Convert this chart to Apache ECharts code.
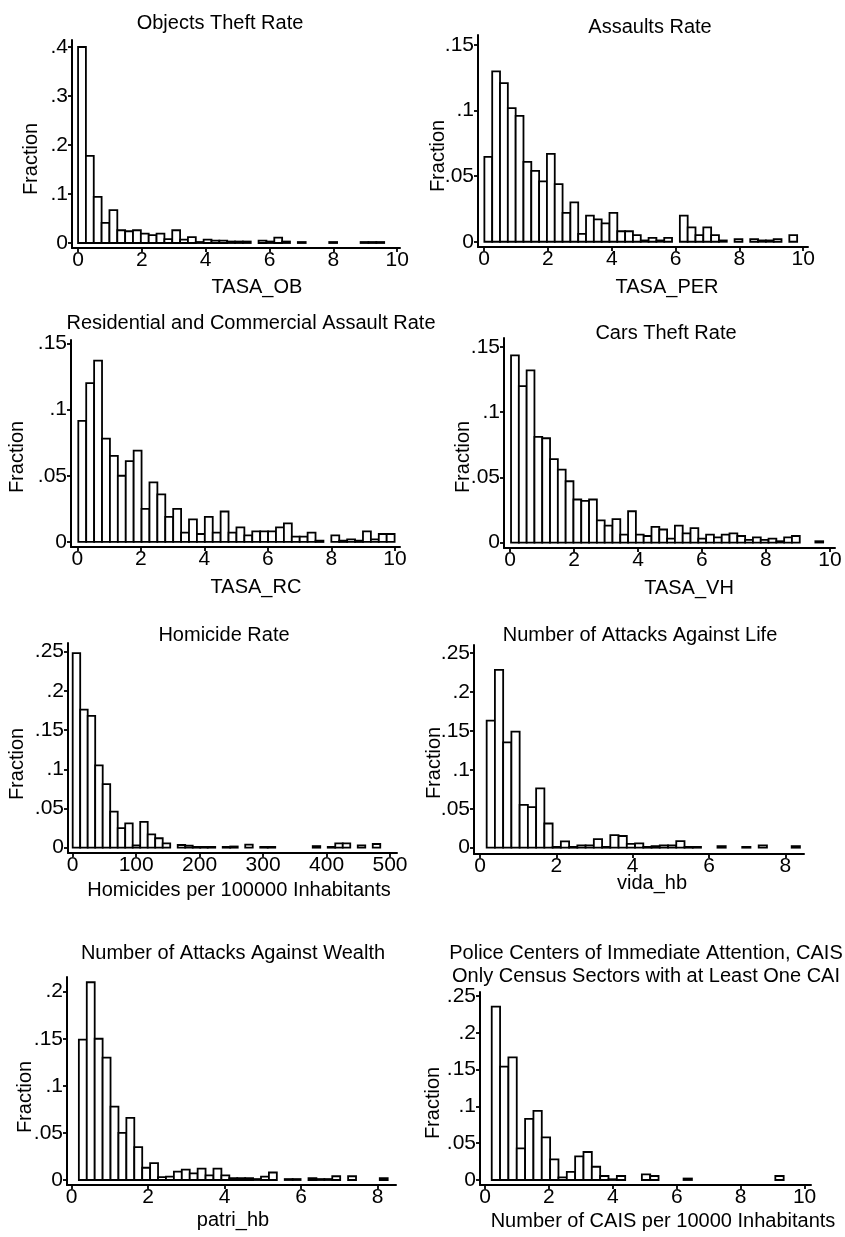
<!DOCTYPE html>
<html>
<head>
<meta charset="utf-8">
<title>Crime rate histograms</title>
<script src="https://cdn.jsdelivr.net/npm/echarts@6.0.0/dist/echarts.min.js"></script>
<style>
html, body { margin: 0; padding: 0; background: #fff; }
#chart { width: 845px; height: 1237px; }
</style>
</head>
<body>
<div id="chart"></div>
<script>
// bin heights (fraction), left to right
var objHeights = [0.400, 0.178, 0.094, 0.041, 0.067, 0.026, 0.024, 0.026, 0.019, 0.016, 0.019, 0.008, 0.026, 0.007, 0.012, 0.002, 0.007, 0.005, 0.005, 0.003, 0.003, 0.003, 0, 0.005, 0.003, 0.011, 0.003, 0, 0.002, 0, 0, 0, 0.002, 0, 0, 0, 0.002, 0.002, 0.002];
var perHeights = [0.0648, 0.130, 0.121, 0.102, 0.096, 0.061, 0.054, 0.046, 0.067, 0.044, 0.022, 0.030, 0.006, 0.020, 0.017, 0.014, 0.022, 0.008, 0.008, 0.005, 0.001, 0.003, 0.001, 0.003, 0, 0.020, 0.011, 0.005, 0.011, 0.005, 0.001, 0, 0.002, 0, 0.002, 0.001, 0.001, 0.002, 0, 0.005];
var rcHeights = [0.0915, 0.120, 0.137, 0.078, 0.065, 0.050, 0.061, 0.069, 0.025, 0.045, 0.036, 0.019, 0.025, 0.007, 0.017, 0.006, 0.019, 0.007, 0.023, 0.007, 0.011, 0.005, 0.008, 0.008, 0.008, 0.011, 0.014, 0.004, 0.004, 0.007, 0.001, 0, 0.005, 0.001, 0.002, 0.001, 0.008, 0.002, 0.006, 0.006];
var vhHeights = [0.1436, 0.120, 0.132, 0.081, 0.080, 0.064, 0.056, 0.047, 0.033, 0.032, 0.033, 0.017, 0.013, 0.018, 0.006, 0.024, 0.006, 0.005, 0.012, 0.010, 0.003, 0.013, 0.007, 0.011, 0.003, 0.006, 0.004, 0.006, 0.007, 0.005, 0.002, 0.004, 0.002, 0.003, 0.001, 0.004, 0.005, 0, 0, 0.001];
var homHeights = [0.248, 0.176, 0.168, 0.105, 0.081, 0.046, 0.025, 0.031, 0.003, 0.033, 0.017, 0.012, 0.0055, 0, 0.0034, 0.0025, 0.001, 0.001, 0.001, 0, 0.001, 0.0015, 0, 0.004, 0, 0.001, 0.001, 0, 0, 0, 0, 0, 0.002, 0, 0.001, 0.0055, 0.0055, 0, 0.003, 0, 0.0047];
var vidaHeights = [0.163, 0.228, 0.135, 0.149, 0.055, 0.052, 0.076, 0.031, 0.001, 0.008, 0.001, 0.003, 0.003, 0.011, 0.001, 0.016, 0.015, 0.005, 0.0055, 0.001, 0.002, 0.003, 0.003, 0.0085, 0.001, 0.001, 0, 0, 0.002, 0, 0, 0.001, 0, 0.003, 0, 0, 0, 0.002];
var patriHeights = [0.149, 0.210, 0.150, 0.130, 0.078, 0.050, 0.066, 0.035, 0.013, 0.018, 0.003, 0.0035, 0.009, 0.011, 0.007, 0.012, 0.005, 0.012, 0.005, 0.002, 0.002, 0.002, 0.001, 0.0035, 0.008, 0, 0.001, 0.001, 0, 0.002, 0.001, 0.001, 0.004, 0, 0.004, 0, 0, 0, 0.002];
var caisHeights = [0.2355, 0.154, 0.1667, 0.043, 0.083, 0.094, 0.058, 0.028, 0.0036, 0.011, 0.032, 0.038, 0.018, 0.0054, 0.001, 0.0054, 0, 0, 0.0077, 0.0054, 0, 0, 0, 0.002, 0, 0, 0, 0, 0, 0, 0, 0, 0, 0, 0.0054];

var allHeights = [objHeights, perHeights, rcHeights, vhHeights, homHeights, vidaHeights, patriHeights, caisHeights];
// left edge of the first bin and bin width, in x units
var binStarts = [0, 0.01, 0.03, 0.03, 0, 0.175, 0.19, 0.21];
var binWidths = [0.246, 0.245, 0.249, 0.244, 11.82, 0.216, 0.207, 0.261];

var panelTitles = [
	['Objects Theft Rate'],
	['Assaults Rate'],
	['Residential and Commercial Assault Rate'],
	['Cars Theft Rate'],
	['Homicide Rate'],
	['Number of Attacks Against Life'],
	['Number of Attacks Against Wealth'],
	['Police Centers of Immediate Attention, CAIS', 'Only Census Sectors with at Least One CAI']
];
var xNames = ['TASA_OB', 'TASA_PER', 'TASA_RC', 'TASA_VH', 'Homicides per 100000 Inhabitants', 'vida_hb', 'patri_hb', 'Number of CAIS per 10000 Inhabitants'];
var xTicks = [
	[0, 2, 4, 6, 8, 10], [0, 2, 4, 6, 8, 10], [0, 2, 4, 6, 8, 10], [0, 2, 4, 6, 8, 10],
	[0, 100, 200, 300, 400, 500], [0, 2, 4, 6, 8], [0, 2, 4, 6, 8], [0, 2, 4, 6, 8, 10]
];
var yTicks = [
	[0, 0.1, 0.2, 0.3, 0.4],
	[0, 0.05, 0.1, 0.15],
	[0, 0.05, 0.1, 0.15],
	[0, 0.05, 0.1, 0.15],
	[0, 0.05, 0.1, 0.15, 0.2, 0.25],
	[0, 0.05, 0.1, 0.15, 0.2, 0.25],
	[0, 0.05, 0.1, 0.15, 0.2],
	[0, 0.05, 0.1, 0.15, 0.2, 0.25]
];

// layout: axis box [left, top, width, height], axis ranges, text anchors
var layout = [
	{box: [72, 40, 328, 208], x: [-0.19, 10.09], y: [-0.0102, 0.4143], title: [220, 23], name: [257, 287], frac: [31, 159]},
	{box: [478, 35, 330, 212], x: [-0.19, 10.15], y: [-0.0040, 0.1577], title: [650, 27], name: [667, 287], frac: [438, 156]},
	{box: [71, 340, 329, 207], x: [-0.2, 10.16], y: [-0.0038, 0.1525], title: [251, 323], name: [256, 587], frac: [17, 457]},
	{box: [504, 338, 331, 210], x: [-0.19, 10.16], y: [-0.0042, 0.1569], title: [666, 333], name: [689, 588], frac: [463, 457]},
	{box: [68, 643, 329, 210], x: [-7.4, 511], y: [-0.0068, 0.261], title: [224, 635], name: [239, 890], frac: [17, 764]},
	{box: [474, 645, 330, 209], x: [-0.157, 8.49], y: [-0.0081, 0.26], title: [640, 635], name: [652, 883], frac: [434, 763]},
	{box: [67, 977, 329, 208], x: [-0.12, 8.48], y: [-0.0053, 0.2156], title: [233, 953], name: [233, 1220], frac: [25, 1097]},
	{box: [480, 992, 331, 193], x: [-0.157, 10.2], y: [-0.0068, 0.2554], title: [646, 953], name: [663, 1221], frac: [433, 1103]}
];

var FONT = '"Liberation Sans", Arial, Helvetica, sans-serif';
var chart = echarts.init(document.getElementById('chart'));

// stata style labels: .05, .1 ...
function fracLabel(v) {
	if (Math.abs(v) < 1e-9) return '0';
	return String(+v.toFixed(3)).replace(/^0\./, '.');
}

function renderBar(params, api) {
	var h = api.value(2);
	if (!(h > 0)) return null;
	var lo = api.coord([api.value(0), 0]);
	var hi = api.coord([api.value(1), h]);
	return {
		type: 'rect',
		shape: {x: lo[0], y: hi[1], width: hi[0] - lo[0], height: lo[1] - hi[1]},
		style: {fill: '#fff', stroke: '#000', lineWidth: 1.8}
	};
}

function textEl(str, pos, rot) {
	return {
		type: 'text',
		x: pos[0], y: pos[1],
		rotation: rot || 0,
		style: {
			text: str, fill: '#000',
			fontSize: 20, fontFamily: FONT,
			align: 'center', verticalAlign: 'middle',
			textAlign: 'center', textVerticalAlign: 'middle'
		}
	};
}

var grids = [], xAxes = [], yAxes = [], series = [], texts = [];
var axisLine = {show: true, onZero: false, lineStyle: {color: '#000', width: 2}};
var tickStyle = {color: '#000', width: 1.8};

for (var i = 0; i < layout.length; i++) {
	var p = layout[i];
	grids.push({left: p.box[0], top: p.box[1], width: p.box[2], height: p.box[3], containLabel: false, outerBoundsMode: 'none'});
	xAxes.push({
		type: 'value', gridIndex: i, min: p.x[0], max: p.x[1],
		axisLine: axisLine,
		axisTick: {show: true, length: 4, customValues: xTicks[i], lineStyle: tickStyle},
		axisLabel: {customValues: xTicks[i], margin: 2, color: '#000', fontSize: 21, fontFamily: FONT},
		splitLine: {show: false}
	});
	yAxes.push({
		type: 'value', gridIndex: i, min: p.y[0], max: p.y[1],
		axisLine: axisLine,
		axisTick: {show: true, length: 4, customValues: yTicks[i], lineStyle: tickStyle},
		axisLabel: {customValues: yTicks[i], margin: 4, color: '#000', fontSize: 21, fontFamily: FONT, formatter: fracLabel},
		splitLine: {show: false}
	});

	var bars = [];
	var hs = allHeights[i];
	for (var k = 0; k < hs.length; k++) {
		var x0 = binStarts[i] + k * binWidths[i];
		bars.push([x0, x0 + binWidths[i], hs[k]]);
	}
	series.push({
		type: 'custom', xAxisIndex: i, yAxisIndex: i,
		renderItem: renderBar, encode: {x: [0, 1], y: 2},
		data: bars, clip: false, silent: true
	});

	var tl = panelTitles[i];
	for (var t = 0; t < tl.length; t++) {
		texts.push(textEl(tl[t], [p.title[0], p.title[1] + t * 23]));
	}
	texts.push(textEl(xNames[i], p.name));
	texts.push(textEl('Fraction', p.frac, Math.PI / 2));
}

chart.setOption({
	animation: false,
	backgroundColor: '#fff',
	grid: grids,
	xAxis: xAxes,
	yAxis: yAxes,
	series: series,
	graphic: texts
});
</script>
</body>
</html>
